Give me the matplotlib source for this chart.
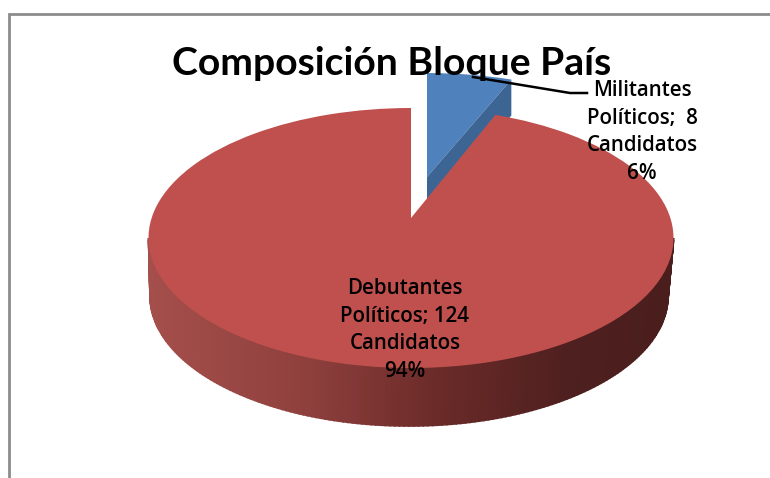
import numpy as np
import matplotlib
matplotlib.use("Agg")
import matplotlib.pyplot as plt
from matplotlib.transforms import Transform
from matplotlib.colors import LinearSegmentedColormap
from matplotlib.patches import Polygon

title = "Composición Bloque País"
categories = ["Militantes\nPolíticos", "Debutantes\nPolíticos"]
values = [8, 124]
unit = "Candidatos"
colors = ["#4f81bd", "#c0504d"]

plt.rcParams["font.family"] = ["Lato", "DejaVu Sans"]
W, H = 770, 478
fig = plt.figure(figsize=(W / 100, H / 100), dpi=100)
ax = fig.add_axes([0, 0, 1, 1])


class Disc(Transform):
    """Perspective view of the unit-circle pie, into pixel coordinates."""
    input_dims = output_dims = 2

    def __init__(self, cx, cy, rx, ry, a, dx=0, dy=0, squash=1.0):
        super().__init__()
        self.p = (cx, cy, rx, ry, a, dx, dy, squash)

    def transform_non_affine(self, xy):
        cx, cy, rx, ry, a, dx, dy, squash = self.p
        xy = np.asarray(xy, float)
        u, v = xy[:, 0], xy[:, 1]
        d = 1 + a * v
        x = cx + rx * u * np.sqrt(1 - a * a) / d
        y = cy - ry * (v + a) / d
        apex_y = cy - ry * a
        y = apex_y + (y - apex_y) * squash
        return np.column_stack([x + dx, y + dy])


RED = (411, 238, 262.5, 130, 0.154)
red_top = Disc(*RED)
red_bottom = Disc(409, 296, 259, 130, 0.154)
blue_top = Disc(*RED, dx=16, dy=-41, squash=0.945)
blue_bottom = Disc(*RED, dx=16, dy=-5, squash=0.945)

wedges, _ = ax.pie(values, colors=colors, startangle=90, counterclock=False)
blue, red = wedges
blue.set_transform(blue_top + ax.transData)
blue.set_zorder(3)
red.set_transform(red_top + ax.transData)
red.set_zorder(6)
ax.set_aspect("auto")
ax.set_xlim(0, W)
ax.set_ylim(H, 0)
ax.axis("off")


def unit_pts(deg):
    t = np.radians(deg)
    return np.column_stack([np.cos(t), np.sin(t)])


# dark cut face of the blue slice
edge = unit_pts([blue.theta1])
apex = np.zeros((1, 2))
face = np.vstack([blue_top.transform(apex), blue_top.transform(edge),
                  blue_bottom.transform(edge), blue_bottom.transform(apex)])
ax.add_patch(Polygon(face, closed=True, fc="#3d6594", ec="none", zorder=4))

# outer wall of the red slice, shaded from left to right
shade = LinearSegmentedColormap.from_list(
    "wall", [(0, "#a54f4c"), (0.3, "#8f403d"), (0.55, "#6b2b29"),
             (0.8, "#4e201f"), (1, "#4a1e1d")])
a = RED[4]
start = 180 + np.degrees(np.arcsin(a))
stop = 360 - np.degrees(np.arcsin(a))
angles = np.linspace(start, stop, 181)
top_pts = red_top.transform(unit_pts(angles))
bot_pts = red_bottom.transform(unit_pts(angles))
x_lo, x_hi = top_pts[:, 0].min(), top_pts[:, 0].max()
for i in range(len(angles) - 1):
    quad = np.vstack([top_pts[i], top_pts[i + 1], bot_pts[i + 1], bot_pts[i]])
    frac = (quad[:, 0].mean() - x_lo) / (x_hi - x_lo)
    c = shade(frac)
    ax.add_patch(Polygon(quad, closed=True, fc=c, ec=c, lw=1.2, zorder=5))

# chart frame (open on the right and bottom of the crop)
ax.plot([8.5, 8.5, 770], [478, 13.5, 13.5], color="#8c8c8c", lw=2,
        solid_joinstyle="miter", zorder=1)

ax.text(392, 63, title, fontsize=28.2, fontweight="bold", ha="center",
        va="center", color="black", zorder=8)

total = sum(values)
labels = [f"{c};  {v}\n{unit}\n{v / total:.0%}" if v < 10 else
          f"{c}; {v}\n{unit}\n{v / total:.0%}"
          for c, v in zip(categories, values)]
label_font = dict(family="Open Sans", fontsize=14.8, fontweight="semibold",
                  ha="center", va="center", linespacing=1.43, color="black",
                  zorder=8)
ax.text(642, 132, labels[0], **label_font)
ax.text(405, 330, labels[1], **label_font)

# leader line
ax.plot([587, 570, 473], [93, 93, 77], color="black", lw=1.8, zorder=7)

fig.savefig("out.png", dpi=100, facecolor="white")
